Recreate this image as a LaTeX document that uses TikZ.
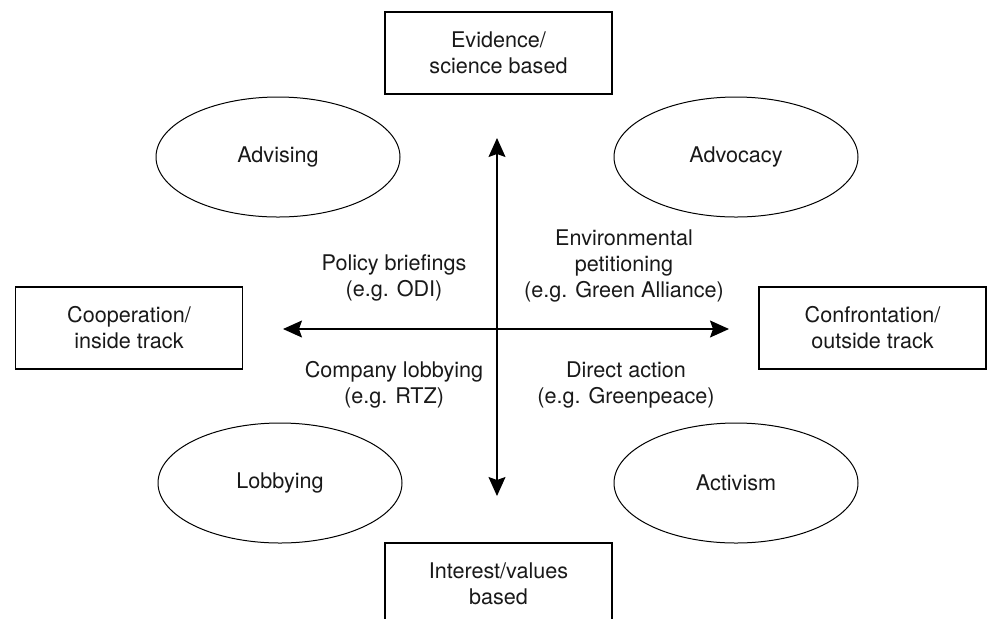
\documentclass[tikz,border=0pt]{standalone}
\usepackage{fontspec}
\setmainfont{TeX Gyre Heros}
\usetikzlibrary{shapes.geometric,arrows.meta}

\begin{document}
\begin{tikzpicture}[%
      x=0.5pt, y=-0.5pt,
      every node/.style={font=\fontsize{10.8}{13}\selectfont, align=center, text=black!90},
      trackbox/.style={draw, line width=0.55pt, rectangle, minimum width=113.5pt, minimum height=41pt, inner sep=0pt},
      mode/.style={draw, line width=0.5pt, ellipse, minimum width=122pt, minimum height=60pt, inner sep=0pt},
      axis/.style={line width=0.65pt, {Stealth[length=9.5pt,width=8.5pt,inset=1.5pt]}-{Stealth[length=9.5pt,width=8.5pt,inset=1.5pt]}},
      ]
      \useasboundingbox (0,0) rectangle (992,618);
      \clip (0,0) rectangle (992,618);

      \node [trackbox] (evidence) at (498.5,53) {Evidence/\\science based};
      \node [trackbox] (coop) at (129,328) {Cooperation/\\inside track};
      \node [trackbox] (confront) at (872.5,328) {Confrontation/\\outside track};
      \node [trackbox] (interest) at (498.5,584) {Interest/values\\based};

      \node [mode] (advising) at (278,157) {Advising};
      \node [mode] (advocacy) at (736,157) {Advocacy};
      \node [mode] (lobbying) at (280,483) {Lobbying};
      \node [mode] (activism) at (736,483) {Activism};

      \coordinate (north) at (497,138);
      \coordinate (south) at (497,496);
      \coordinate (west) at (283,329);
      \coordinate (east) at (729,329);
      \draw [axis] (north) -- (south);
      \draw [axis] (west) -- (east);

      \node (briefings) at (394,278) {Policy briefings\\(e.g. ODI)};
      \node (petitioning) at (624,266) {Environmental\\petitioning\\(e.g. Green Alliance)};
      \node (company) at (394,385) {Company lobbying\\(e.g. RTZ)};
      \node (direct) at (626,385) {Direct action\\(e.g. Greenpeace)};
      \end{tikzpicture}
\end{document}
